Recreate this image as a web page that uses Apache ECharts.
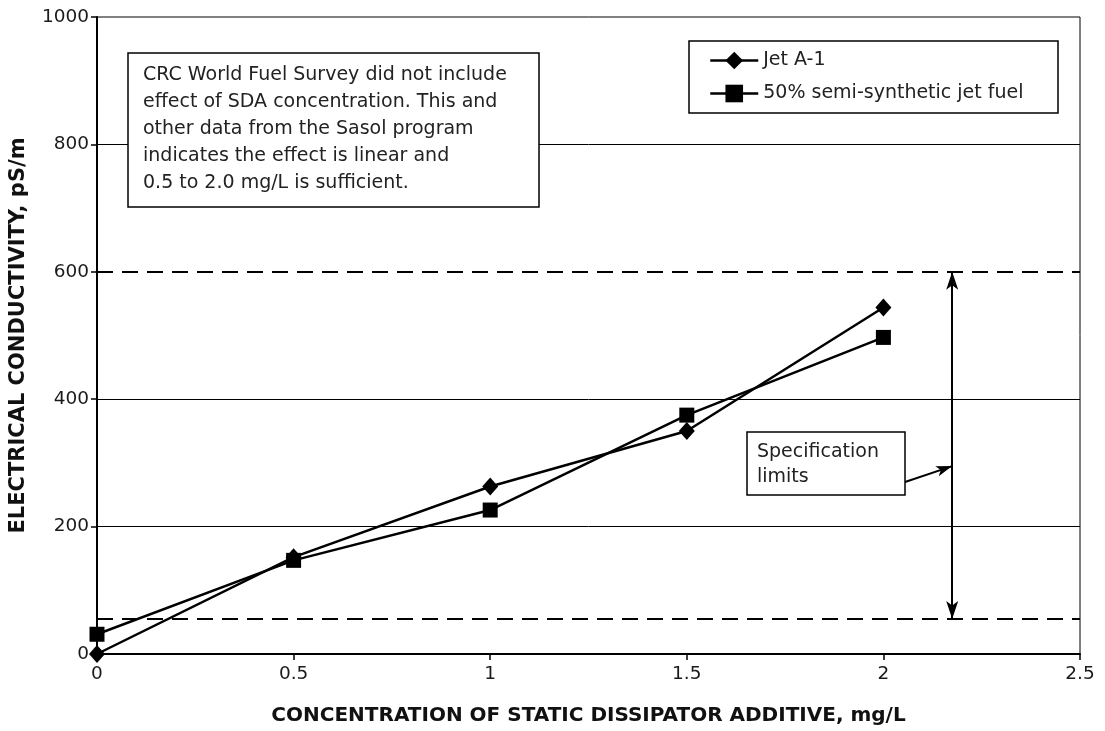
<!DOCTYPE html>
<html><head><meta charset="utf-8">
<script src="https://cdn.jsdelivr.net/npm/echarts@6/dist/echarts.min.js"></script>
<style>html,body{margin:0;padding:0;background:#fff}#c{width:1105px;height:731px}</style>
</head><body><div id="c"></div>
<script>
const concentrations = [0, 0.5, 1, 1.5, 2];
const jetA1 = [0, 152, 263, 350, 544];
const semiSynthetic = [31, 147, 226, 375, 497];
const specLimits = [55, 600];
const specArrowX = 2.175;
const gridLineValues = [200, 400, 800];
const seriesNames = ['Jet A-1', '50% semi-synthetic jet fuel'];
const xTitle = 'CONCENTRATION OF STATIC DISSIPATOR ADDITIVE, mg/L';
const yTitle = 'ELECTRICAL CONDUCTIVITY, pS/m';
const noteText = ['CRC World Fuel Survey did not include','effect of SDA concentration. This and','other data from the Sasol program','indicates the effect is linear and','0.5 to 2.0 mg/L is sufficient.'];
const specText = ['Specification','limits'];

const FONT = 'DejaVu Sans';
const chart = echarts.init(document.getElementById('c'));
const toPairs = (ys) => concentrations.map((x, i) => [x, ys[i]]);

chart.setOption({
  animation: false,
  textStyle: { fontFamily: FONT },
  grid: { left: 96, right: 25, top: 17, bottom: 76, show: true, borderColor: '#000', borderWidth: 1 },
  xAxis: {
    type: 'value', min: 0, max: 2.5, interval: 0.5,
    name: xTitle, nameLocation: 'middle', nameGap: 52,
    nameTextStyle: { fontFamily: FONT, fontWeight: 'bold', fontSize: 20, color: '#111' },
    axisLine: { lineStyle: { color: '#000', width: 2 } },
    axisTick: { show: true, length: 6, lineStyle: { color: '#000', width: 1.5 } },
    axisLabel: { fontFamily: FONT, fontSize: 18.5, color: '#1a1a1a', margin: 11 },
    splitLine: { show: false }
  },
  yAxis: {
    type: 'value', min: 0, max: 1000, interval: 200,
    name: yTitle, nameLocation: 'middle', nameGap: 68,
    nameTextStyle: { fontFamily: FONT, fontWeight: 'bold', fontSize: 21, color: '#111' },
    axisLine: { lineStyle: { color: '#000', width: 2 } },
    axisTick: { show: true, length: 6, lineStyle: { color: '#000', width: 1.5 } },
    axisLabel: { fontFamily: FONT, fontSize: 18.5, color: '#1a1a1a', margin: 8, formatter: v => String(v) },
    splitLine: { show: false }
  },
  legend: {
    orient: 'vertical', left: 704, top: 46, itemGap: 14,
    itemWidth: 48, itemHeight: 22,
    lineStyle: { width: 2.5 },
    textStyle: { fontFamily: FONT, fontSize: 19, color: '#222' },
    data: seriesNames
  },
  series: [
    {
      name: '__grid', type: 'line', data: [], silent: true,
      markLine: {
        silent: true, symbol: ['none', 'none'], label: { show: false },
        lineStyle: { color: '#000', width: 1, type: 'solid' },
        data: gridLineValues.map(v => ({ yAxis: v }))
      }
    },
    {
      name: '__spec', type: 'line', data: [], silent: true,
      markLine: {
        silent: true, symbol: ['none', 'none'], label: { show: false },
        data: [
          ...specLimits.map(v => ({ yAxis: v, lineStyle: { color: '#000', width: 2, type: [16, 9] } })),
          [ { coord: [specArrowX, specLimits[0]], symbol: 'arrow', symbolSize: [9, 18] },
            { coord: [specArrowX, specLimits[1]], symbol: 'arrow', symbolSize: [9, 18] } ],
          [ { coord: [2.055, 270], symbol: 'none' },
            { coord: [specArrowX, 295], symbol: 'arrow', symbolSize: [8, 16] } ]
        ],
        lineStyle: { color: '#000', width: 2, type: 'solid' }
      }
    },
    {
      name: seriesNames[0], type: 'line', data: toPairs(jetA1),
      symbol: 'diamond', symbolSize: [16, 18], color: '#000',
      lineStyle: { color: '#000', width: 2.5 }, itemStyle: { color: '#000' }, z: 5
    },
    {
      name: seriesNames[1], type: 'line', data: toPairs(semiSynthetic),
      symbol: 'rect', symbolSize: 15, color: '#000',
      lineStyle: { color: '#000', width: 2.5 }, itemStyle: { color: '#000' }, z: 5
    }
  ],
  graphic: [
    { type: 'rect', shape: { x: 689, y: 41, width: 369, height: 72 }, style: { fill: 'none', stroke: '#000', lineWidth: 1.5 }, z: 10 },
    { type: 'rect', shape: { x: 128, y: 53, width: 411, height: 154 }, style: { fill: '#fff', stroke: '#000', lineWidth: 1.5 }, z: 10 },
    { type: 'text', x: 143, y: 62, z: 11, style: { text: noteText.join('\n'), font: '19px "' + FONT + '"', fill: '#222', lineHeight: 27 } },
    { type: 'rect', shape: { x: 747, y: 432, width: 158, height: 63 }, style: { fill: '#fff', stroke: '#000', lineWidth: 1.5 }, z: 10 },
    { type: 'text', x: 757, y: 440, z: 11, style: { text: specText.join('\n'), font: '19px "' + FONT + '"', fill: '#222', lineHeight: 25 } }
  ]
});
</script></body></html>
